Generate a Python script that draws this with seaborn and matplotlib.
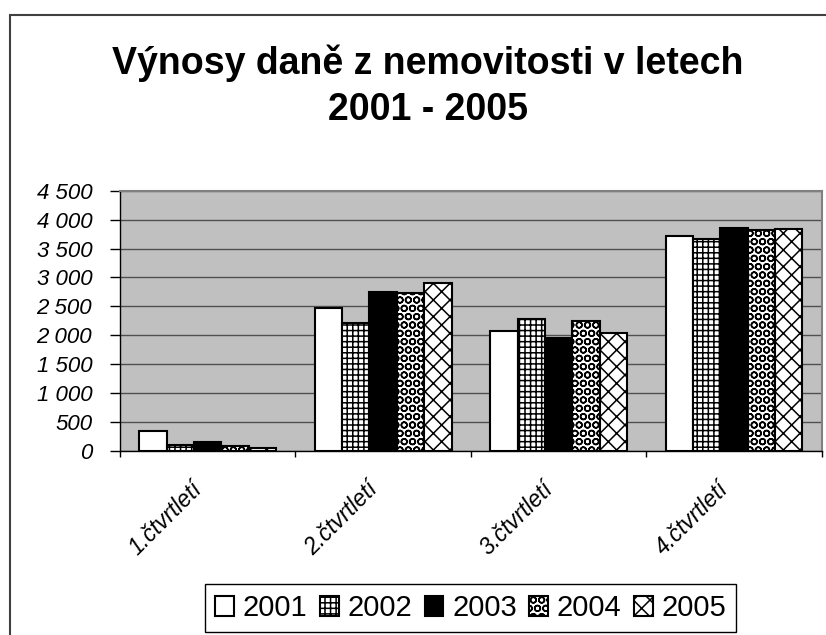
import matplotlib
matplotlib.use('Agg')
import pandas as pd
import matplotlib.pyplot as plt
import seaborn as sns
from matplotlib.patches import Rectangle
from matplotlib.transforms import ScaledTranslation

# data
ctvrtleti = ['1.čtvrtletí', '2.čtvrtletí', '3.čtvrtletí', '4.čtvrtletí']
roky = ['2001', '2002', '2003', '2004', '2005']
v2001 = [350, 2470, 2075, 3710]
v2002 = [105, 2220, 2285, 3670]
v2003 = [150, 2745, 1950, 3855]
v2004 = [80, 2725, 2255, 3820]
v2005 = [45, 2905, 2045, 3840]
y_ticks = [0, 500, 1000, 1500, 2000, 2500, 3000, 3500, 4000, 4500]
y_labels = ['0', '500', '1 000', '1 500', '2 000', '2 500', '3 000', '3 500', '4 000', '4 500']

hodnoty = [v2001, v2002, v2003, v2004, v2005]
df = pd.DataFrame({
    'ctvrtleti': ctvrtleti * len(roky),
    'rok': [r for r in roky for _ in ctvrtleti],
    'hodnota': [v for serie in hodnoty for v in serie],
})

# vyplne sloupcu (barva, srafovani)
vzory = {
    '2001': ('white', ''),
    '2002': ('white', '+++'),
    '2003': ('black', ''),
    '2004': ('white', 'OO'),
    '2005': ('white', 'xx'),
}

sns.set_style('white')
plt.rcParams['font.family'] = ['Liberation Sans', 'DejaVu Sans']
plt.rcParams['text.color'] = 'black'
plt.rcParams['xtick.color'] = 'black'
plt.rcParams['ytick.color'] = 'black'
plt.rcParams['hatch.linewidth'] = 1.1
plt.rcParams['hatch.color'] = 'black'

fig = plt.figure(figsize=(8.26, 6.35), dpi=100)
ax = fig.add_axes([120 / 826, 1 - 451 / 635, 701.7 / 826, 260.3 / 635])

sns.barplot(data=df, x='ctvrtleti', y='hodnota', hue='rok', order=ctvrtleti,
            hue_order=roky, width=0.78, palette=['white'] * 5, saturation=1,
            edgecolor='black', linewidth=1.5, legend=False, ax=ax)

for rok, cont in zip(roky, ax.containers):
    barva, srafa = vzory[rok]
    for p in cont.patches:
        p.set_facecolor(barva)
        p.set_hatch(srafa)
        p.set_edgecolor('black')

ax.set_facecolor('#C0C0C0')
ax.set_xlim(-0.5, 3.5)
ax.set_ylim(0, 4500)
ax.yaxis.grid(True, color='#505050', lw=1)
ax.set_axisbelow(True)
for s in ['left', 'bottom']:
    ax.spines[s].set_color('black')
    ax.spines[s].set_linewidth(1)
for s in ['top', 'right']:
    ax.spines[s].set_color('#808080')
    ax.spines[s].set_linewidth(1.5)

ax.set_yticks(y_ticks, labels=y_labels, fontstyle='italic', fontsize=16)
ax.tick_params(axis='y', length=7, width=1, direction='out', pad=13, left=True)

ax.set_xticks(range(len(ctvrtleti)), labels=ctvrtleti, rotation=45, ha='right',
              va='top', rotation_mode='anchor', fontstyle='italic', fontsize=16.5)
ax.tick_params(axis='x', which='major', length=0, pad=19)
ax.set_xticks([-0.5, 0.5, 1.5, 2.5, 3.5], minor=True)
ax.tick_params(axis='x', which='minor', length=4, width=1, bottom=True, direction='out')
for lab in ax.get_xticklabels():
    lab.set_transform(lab.get_transform() + ScaledTranslation(-0.17, 0, fig.dpi_scale_trans))
ax.set_xlabel('')
ax.set_ylabel('')

fig.text(428 / 826, 1 - 44 / 635, 'Výnosy daně z nemovitosti v letech\n2001 - 2005',
         ha='center', va='top', fontsize=27, fontweight='bold', linespacing=1.38)

leg = ax.legend(handles=[c.patches[0] for c in ax.containers], labels=roky,
                loc='upper left', bbox_to_anchor=(205 / 826, 1 - 584 / 635),
                bbox_transform=fig.transFigure, ncol=5, fontsize=21,
                frameon=True, fancybox=False, edgecolor='black', framealpha=1,
                handlelength=0.65, handleheight=0.65, handletextpad=0.3,
                columnspacing=0.42, borderpad=0.35, borderaxespad=0)
leg.get_frame().set_linewidth(1)

# ramecek grafu
fig.add_artist(Rectangle((10 / 826, -0.1), 2, 1.1 - 15 / 635, transform=fig.transFigure,
                         fill=False, edgecolor='#404040', lw=1.5))

fig.savefig('out.png', dpi=100)
